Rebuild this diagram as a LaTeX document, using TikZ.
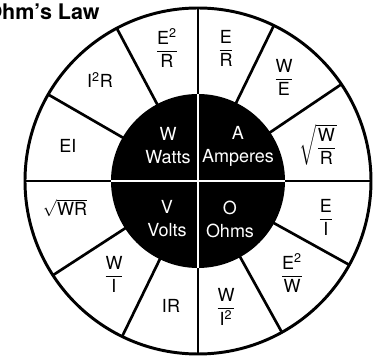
\documentclass[tikz,border=0pt]{standalone}
\usepackage{fontspec}
\usepackage{amsmath}
\setmainfont{TeX Gyre Heros}
\usetikzlibrary{positioning}
\newcommand{\lawfrac}[2]{$\dfrac{\text{#1}}{\text{#2}}$}
\tikzset{
  rim/.style={draw, line width=2.1pt},
  spoke/.style={line width=1.9pt},
  hub/.style={fill=black},
  cross/.style={draw=white, line width=1.3pt},
  term/.style={inner sep=0pt, align=center, font=\fontsize{12.8}{16.3}\selectfont},
  unit/.style={term, text=white},
  heading/.style={inner sep=0pt, anchor=base east, font=\bfseries\fontsize{15.3}{18}\selectfont}
}

\begin{document}
\begin{tikzpicture}[x=1cm,y=1cm]
  \useasboundingbox (-4.95,-4.425) rectangle (4.475,4.525);

  % wheel
  \foreach \a in {0,34,64,90,118,150,180,213,244,270,299,331} {
    \draw[spoke] (\a:2.1) -- (\a:4.325);
  }
  \fill[hub] (0,0) circle (2.175);
  \draw[cross] (-2.175,0) -- (2.175,0);
  \draw[cross] (0,-2.175) -- (0,2.175);
  \draw[rim] (0,0) circle (4.325);

  \node[heading] (title) at (-2.45,4.025) {Ohm's Law};

  % centre quantities
  \node[unit] (watts) at (-0.75,0.875) {W\\Watts};
  \node[unit] (amps) at (1.0,0.875) {A\\Amperes};
  \node[unit] (volts) at (-0.775,-0.95) {V\\Volts};
  \node[unit] (ohms) at (0.8,-0.95) {O\\Ohms};

  % formulas round the rim
  \node[term] (e2r) at (-0.775,3.325) {\lawfrac{E\textsuperscript{2}}{R}};
  \node[term] (er) at (0.7,3.325) {\lawfrac{E}{R}};
  \node[term] (we) at (2.15,2.6) {\lawfrac{W}{E}};
  \node[term] (wr2) at (3.0,0.9) {$\sqrt{\dfrac{\text{W}}{\text{R}}}$};
  \node[term] (ei2) at (3.2,-0.9) {\lawfrac{E}{I}};
  \node[term] (e2w) at (2.35,-2.3) {\lawfrac{E\textsuperscript{2}}{W}};
  \node[term] (wi2) at (0.7,-3.15) {\lawfrac{W}{I\textsuperscript{2}}};
  \node[term] (ir) at (-0.675,-3.125) {IR};
  \node[term] (wi) at (-2.1,-2.325) {\lawfrac{W}{I}};
  \node[term] (wr) at (-3.325,-0.675) {$\sqrt{\text{WR}}$};
  \node[term] (ei) at (-3.25,0.875) {EI};
  \node[term] (i2r) at (-2.45,2.525) {I\textsuperscript{2}R};
\end{tikzpicture}
\end{document}
